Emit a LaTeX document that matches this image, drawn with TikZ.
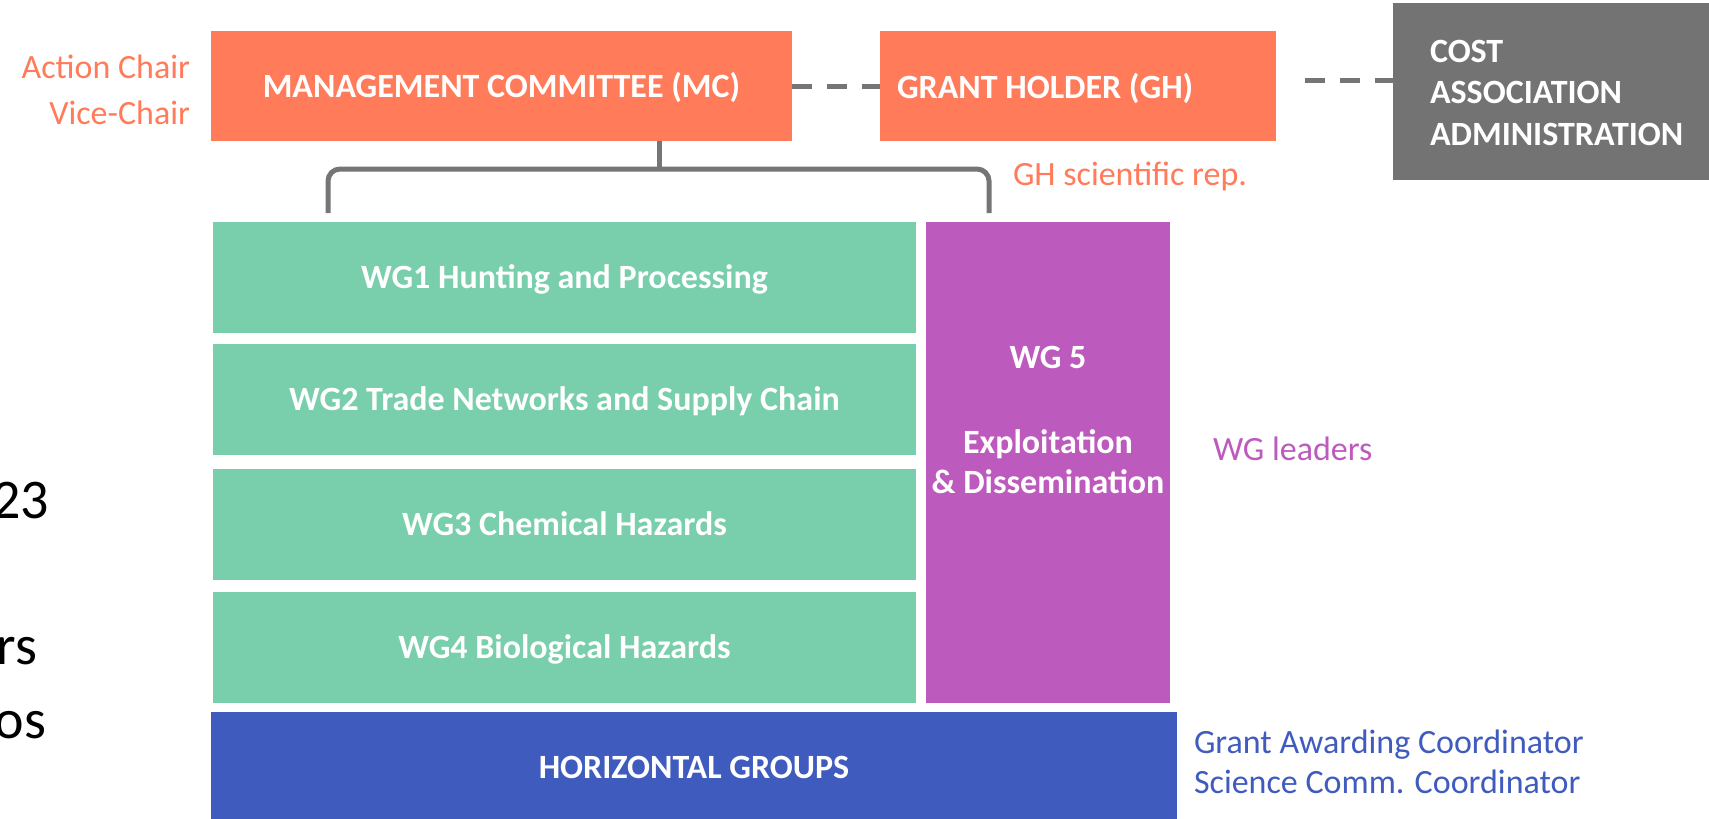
\documentclass[tikz,border=0pt]{standalone}
\usepackage{fontspec}
\setmainfont{Carlito}
\definecolor{salmon}{HTML}{FF7B5A}
\definecolor{wggreen}{HTML}{79CEAC}
\definecolor{wgpurple}{HTML}{BD5ABD}
\definecolor{hgblue}{HTML}{3F5BBE}
\definecolor{costgray}{HTML}{737373}
\definecolor{linegray}{HTML}{757575}
\begin{document}
\begin{tikzpicture}[x=1pt,y=-1pt,
  every node/.style={inner sep=0pt, outer sep=0pt},
  boxnode/.style={rectangle, draw=none, text=white, font=\fontsize{34}{40}\selectfont\bfseries, text height=22pt, text depth=0pt},
  boxtext/.style={text=white, font=\fontsize{34}{40}\selectfont\bfseries},
  txt/.style={font=\fontsize{34}{40}\selectfont},
  bigtxt/.style={font=\fontsize{56}{60}\selectfont, text=black},
  dashline/.style={draw=linegray, line width=5pt, dash pattern=on 20pt off 15pt},
  conn/.style={draw=linegray, line width=5pt}]
\useasboundingbox (0,0) rectangle (1709,819);

% top boxes
\node[boxnode, fill=salmon, minimum width=581pt, minimum height=110pt] (MC) at (501.5,86) {MANAGEMENT COMMITTEE (MC)};
\node[boxnode, fill=salmon, minimum width=396pt, minimum height=110pt] (GH) at (1078,86) {};
\node[boxtext, anchor=base west] (GHt) at (897,98) {GRANT HOLDER (GH)};
\node[rectangle, fill=costgray, minimum width=319pt, minimum height=177pt] (COST) at (1552.5,91.5) {};
\node[boxtext, anchor=north west, align=left, font=\fontsize{34}{41.5}\selectfont\bfseries] (COSTt) at (1430,40) {COST\\ASSOCIATION\\ADMINISTRATION};

% working groups
\node[boxnode, fill=wggreen, minimum width=703pt, minimum height=111pt] (WG1) at (564.5,277.5) {WG1 Hunting and Processing};
\node[boxnode, fill=wggreen, minimum width=703pt, minimum height=111pt] (WG2) at (564.5,399.5) {WG2 Trade Networks and Supply Chain};
\node[boxnode, fill=wggreen, minimum width=703pt, minimum height=111pt] (WG3) at (564.5,524.5) {WG3 Chemical Hazards};
\node[boxnode, fill=wggreen, minimum width=703pt, minimum height=111pt] (WG4) at (564.5,647.5) {WG4 Biological Hazards};
\node[rectangle, fill=wgpurple, minimum width=244pt, minimum height=481pt] (WG5) at (1048,462.5) {};
\node[boxtext, anchor=north, align=center] (WG5t) at (1048,346) {WG 5\\[45pt]Exploitation\\\& Dissemination};
\node[boxnode, fill=hgblue, minimum width=966pt, minimum height=110pt] (HG) at (694,767) {HORIZONTAL GROUPS};

% connectors
\draw[dashline] (MC.east) -- (GH.west);
\coordinate (gc) at ([xshift=29pt,yshift=6pt]GH.east);
\draw[dashline] (gc) -- (gc -| COST.west);
\coordinate (bj) at (659,169);
\coordinate (bl) at (328,213);
\coordinate (br) at (989,213);
\draw[conn] (MC.south -| bj) -- (bj);
\draw[conn, rounded corners=12pt] (bl) |- (br |- bj) -- (br);

% annotations
\node[txt, anchor=base east, text=salmon] (ac) at (190,78) {Action Chair};
\node[txt, anchor=base east, text=salmon] (vc) at (190,124) {Vice-Chair};
\node[txt, anchor=base west, text=salmon] (ghs) at (1013,185) {GH scientific rep.};
\node[txt, anchor=base west, text=wgpurple] (wgl) at (1213,460) {WG leaders};
\node[txt, anchor=base west, text=hgblue] (gac) at (1194,753) {Grant Awarding Coordinator};
\node[txt, anchor=base west, text=hgblue] (scc) at (1194,793) {Science Comm. Coordinator};

% text fragments cut by the left edge (as in the reference)
\node[bigtxt, anchor=base east] (f1) at (49,518) {23};
\node[bigtxt, anchor=base east] (f2) at (37,664) {rs};
\node[bigtxt, anchor=base east] (f3) at (46,738) {os};
\end{tikzpicture}
\end{document}
